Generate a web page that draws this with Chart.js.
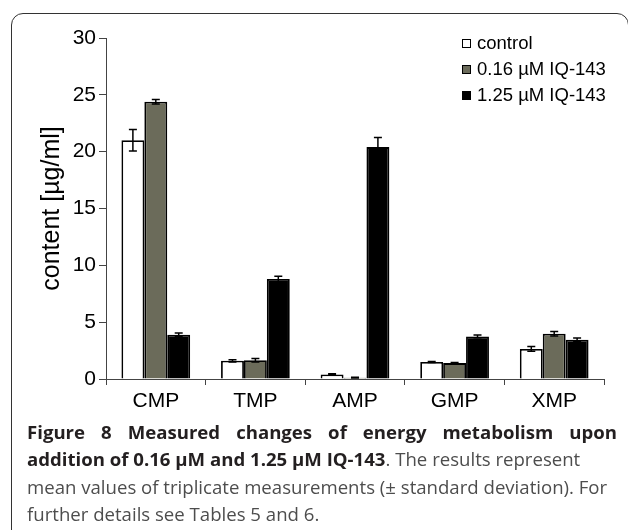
<!DOCTYPE html>
<html>
<head>
<meta charset="utf-8">
<script src="https://cdn.jsdelivr.net/npm/chart.js@4.4.1/dist/chart.umd.min.js"></script>
<style>
  html, body { margin: 0; padding: 0; width: 628px; height: 530px; overflow: hidden; background: #fff; }
  #frame {
    position: absolute; left: 11px; top: 13px; width: 618px; height: 600px;
    box-sizing: border-box; border: 1.5px solid #333; border-radius: 12px;
  }
  #chartBox { position: absolute; left: 0; top: 0; width: 628px; height: 420px; }
  #legend {
    position: absolute; left: 462px; top: 30px;
    font-family: "Liberation Sans", Arial, sans-serif; font-size: 18.5px; color: #000;
  }
  #legend .row { height: 26px; line-height: 26px; white-space: nowrap; }
  #legend .sw {
    display: inline-block; width: 9px; height: 9px; box-sizing: border-box;
    border: 1px solid #000; margin-right: 6px; vertical-align: 1px;
  }
  #caption {
    position: absolute; left: 27px; top: 418px; width: 590px;
    font-family: "Open Sans", sans-serif; font-size: 18.6px; line-height: 27.4px; color: #4d4d4d;
  }
  #caption b { color: #231f20; font-weight: 700; }
  #caption div { white-space: nowrap; }
  #caption .first { text-align: justify; text-align-last: justify; }
</style>
</head>
<body>
<div id="frame"></div>
<div id="chartBox"><canvas id="chart" width="628" height="420"></canvas></div>
<div id="legend"></div>
<div id="caption">
  <div class="first"><b>Figure 8 Measured changes of energy metabolism upon</b></div>
  <div><b>addition of 0.16 µM and 1.25 µM IQ-143</b>. The results represent</div>
  <div>mean values of triplicate measurements (± standard deviation). For</div>
  <div>further details see Tables 5 and 6.</div>
</div>
<script>
const categories = ["CMP", "TMP", "AMP", "GMP", "XMP"];
const seriesNames = ["control", "0.16 µM IQ-143", "1.25 µM IQ-143"];
const seriesColors = ["#ffffff", "#6b6b5a", "#000000"];

const controlValues = [21.0, 1.6, 0.4, 1.5, 2.65];
const controlErrors = [0.95, 0.1, 0.07, 0.05, 0.2];
const lowDoseValues = [24.4, 1.65, 0.12, 1.4, 3.98];
const lowDoseErrors = [0.2, 0.15, 0.03, 0.05, 0.2];
const highDoseValues = [3.9, 8.8, 20.4, 3.75, 3.45];
const highDoseErrors = [0.15, 0.25, 0.85, 0.12, 0.15];

const yTicks = [0, 5, 10, 15, 20, 25, 30];

const allValues = [controlValues, lowDoseValues, highDoseValues];
const allErrors = [controlErrors, lowDoseErrors, highDoseErrors];

const fontFamily = '"Liberation Sans", Arial, Helvetica, sans-serif';

// error bars drawn from the y scale of the chart
const errorBars = {
    id: "errorBars",
    afterDatasetsDraw(chart) {
        const ctx = chart.ctx;
        const yScale = chart.scales.y;
        ctx.save();
        ctx.strokeStyle = "#000";
        ctx.lineWidth = 1.5;
        chart.data.datasets.forEach((ds, di) => {
            const meta = chart.getDatasetMeta(di);
            meta.data.forEach((bar, i) => {
                const v = ds.data[i];
                const e = ds.errors[i];
                const yTop = yScale.getPixelForValue(v + e);
                const yBot = yScale.getPixelForValue(Math.max(v - e, 0));
                const x = bar.x;
                ctx.beginPath();
                ctx.moveTo(x, yTop); ctx.lineTo(x, yBot);
                ctx.moveTo(x - 4, yTop); ctx.lineTo(x + 4, yTop);
                ctx.moveTo(x - 4, yBot); ctx.lineTo(x + 4, yBot);
                ctx.stroke();
            });
        });
        ctx.restore();
    }
};

new Chart(document.getElementById("chart"), {
    type: "bar",
    data: {
        labels: categories,
        datasets: seriesNames.map((name, i) => ({
            label: name,
            data: allValues[i],
            errors: allErrors[i],
            backgroundColor: seriesColors[i],
            borderColor: "#000",
            borderWidth: 1.8,
            categoryPercentage: 0.69,
            barPercentage: 1.0
        }))
    },
    options: {
        responsive: false,
        animation: false,
        layout: { padding: { left: 34, right: 24, top: 38, bottom: 0 } },
        plugins: {
            legend: { display: false },
            tooltip: { enabled: false }
        },
        scales: {
            x: {
                grid: { offset: true, drawOnChartArea: false, tickLength: 6, color: "#444", lineWidth: 1 },
                border: { color: "#444", width: 1 },
                ticks: { color: "#000", font: { family: fontFamily, size: 21 }, padding: 4 },
                afterFit(scale) { scale.height = 41; }
            },
            y: {
                min: 0,
                max: 30,
                afterBuildTicks(scale) { scale.ticks = yTicks.map(v => ({ value: v })); },
                grid: { drawOnChartArea: false, tickLength: 7, color: "#444", lineWidth: 1 },
                border: { color: "#444", width: 1 },
                ticks: { color: "#000", font: { family: fontFamily, size: 21 }, padding: 3 },
                title: {
                    display: true,
                    text: "content [µg/ml]",
                    color: "#000",
                    font: { family: fontFamily, size: 25 },
                    padding: 3
                },
                afterFit(scale) { scale.width = 72; }
            }
        }
    },
    plugins: [errorBars]
});

// legend built from the series arrays
const legend = document.getElementById("legend");
seriesNames.forEach((name, i) => {
    const row = document.createElement("div");
    row.classList.add("row");
    const sw = document.createElement("span");
    sw.classList.add("sw");
    sw.style.background = seriesColors[i];
    row.appendChild(sw);
    row.appendChild(document.createTextNode(name));
    legend.appendChild(row);
});
</script>
</body>
</html>
